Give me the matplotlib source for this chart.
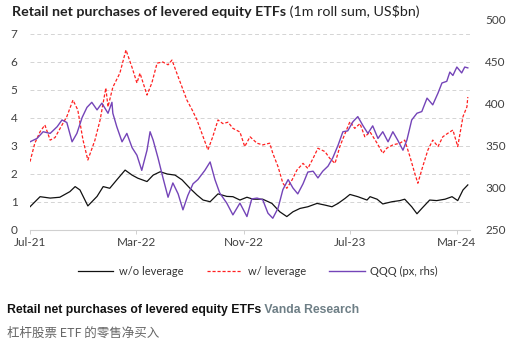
import matplotlib
matplotlib.use("Agg")
import matplotlib.pyplot as plt
import matplotlib.dates as mdates
import pandas as pd
from matplotlib.lines import Line2D

# ---------------- data ----------------
black_dates = ["2021-07-01","2021-07-24","2021-08-16","2021-09-07","2021-09-30","2021-10-12","2021-10-23",
               "2021-11-10","2021-12-01","2021-12-15","2021-12-30","2022-01-15","2022-02-03","2022-02-19",
               "2022-03-04","2022-03-25","2022-04-08","2022-04-24","2022-05-10","2022-05-28","2022-06-13",
               "2022-07-01","2022-07-17","2022-07-31","2022-08-16","2022-09-03","2022-09-23","2022-10-07",
               "2022-10-23","2022-11-08","2022-11-22","2022-12-14","2023-01-04","2023-01-22","2023-02-07",
               "2023-02-21","2023-03-09","2023-03-27","2023-04-17","2023-05-05","2023-05-21","2023-06-04",
               "2023-06-20","2023-07-01","2023-07-19","2023-08-09","2023-08-16","2023-09-01","2023-09-14",
               "2023-10-05","2023-10-23","2023-11-03","2023-11-19","2023-12-01","2023-12-12","2023-12-30",
               "2024-01-15","2024-02-03","2024-02-19","2024-03-03","2024-03-15","2024-03-26"]
black_vals = [0.83, 1.19, 1.14, 1.17, 1.37, 1.55, 1.43,
              0.86, 1.20, 1.55, 1.49, 1.79, 2.14, 1.96,
              1.85, 1.73, 1.96, 2.08, 2.00, 1.96, 1.79,
              1.49, 1.25, 1.07, 1.01, 1.29, 1.20, 1.19,
              1.07, 1.17, 1.10, 1.10, 0.95, 0.65, 0.48,
              0.65, 0.77, 0.83, 0.95, 0.89, 0.83, 0.95,
              1.13, 1.27, 1.19, 1.07, 1.19, 1.10, 0.93,
              1.01, 1.05, 1.10, 0.83, 0.58, 0.77, 1.07,
              1.05, 1.10, 1.19, 1.05, 1.43, 1.61]

red_dates = ["2021-07-01","2021-07-12","2021-07-24","2021-08-04","2021-08-16","2021-08-27","2021-09-12",
             "2021-09-23","2021-10-07","2021-10-18","2021-10-30","2021-11-10","2021-11-26","2021-12-08",
             "2021-12-21","2021-12-26","2022-01-06","2022-01-22","2022-02-05","2022-02-19","2022-03-02",
             "2022-03-09","2022-03-25","2022-04-05","2022-04-17","2022-04-30","2022-05-12","2022-05-21",
             "2022-06-01","2022-06-13","2022-06-24","2022-07-06","2022-07-17","2022-07-31","2022-08-11",
             "2022-08-22","2022-09-03","2022-09-14","2022-09-26","2022-10-07","2022-10-23","2022-11-03",
             "2022-11-15","2022-12-01","2022-12-14","2022-12-30","2023-01-06","2023-01-18","2023-01-29",
             "2023-02-07","2023-02-19","2023-03-02","2023-03-16","2023-03-27","2023-04-08","2023-04-19",
             "2023-05-05","2023-05-16","2023-05-28","2023-06-08","2023-06-20","2023-07-01","2023-07-12",
             "2023-07-24","2023-08-04","2023-08-16","2023-09-01","2023-09-14","2023-09-23","2023-10-07",
             "2023-10-23","2023-11-03","2023-11-15","2023-11-26","2023-12-03","2023-12-14","2023-12-26",
             "2024-01-06","2024-01-18","2024-01-29","2024-02-09","2024-02-21","2024-03-03","2024-03-15",
             "2024-03-24","2024-03-26"]
red_vals = [2.44, 3.10, 3.51, 3.75, 3.21, 3.30, 3.75,
            4.05, 4.64, 4.29, 3.21, 2.50, 3.20, 3.93,
            5.07, 4.40, 5.10, 5.60, 6.43, 5.80, 5.25,
            5.60, 4.82, 5.25, 5.96, 6.00, 5.90, 6.07,
            5.60, 5.10, 4.64, 4.29, 3.93, 3.33, 2.86,
            3.33, 3.93, 3.80, 3.85, 3.63, 3.50, 2.98,
            3.33, 3.10, 3.04, 3.10, 2.74, 2.26, 1.67,
            1.49, 1.79, 2.14, 2.38, 2.20, 2.56, 2.92,
            2.80, 2.56, 2.38, 2.98, 3.45, 3.87, 3.63,
            3.80, 3.33, 3.50, 3.10, 2.74, 2.92, 3.04,
            3.10, 3.21, 2.62, 2.02, 1.67, 2.26, 2.86,
            3.21, 2.98, 3.33, 3.45, 3.57, 2.98, 4.05,
            4.40, 4.75]

qqq_dates = ["2021-07-01","2021-07-17","2021-07-31","2021-08-16","2021-09-01","2021-09-12","2021-09-23",
             "2021-10-05","2021-10-16","2021-10-28","2021-11-08","2021-11-19","2021-12-01","2021-12-12",
             "2021-12-26","2022-01-04","2022-01-06","2022-01-15","2022-01-27","2022-02-07","2022-02-19",
             "2022-03-02","2022-03-13","2022-03-25","2022-04-01","2022-04-08","2022-04-19","2022-04-30",
             "2022-05-12","2022-05-23","2022-06-04","2022-06-15","2022-06-26","2022-07-08","2022-07-19",
             "2022-08-04","2022-08-16","2022-08-27","2022-09-07","2022-09-23","2022-10-07","2022-10-23",
             "2022-11-08","2022-11-19","2022-12-01","2022-12-14","2022-12-26","2023-01-06","2023-01-18",
             "2023-01-29","2023-02-10","2023-02-21","2023-03-04","2023-03-16","2023-03-27","2023-04-08",
             "2023-04-19","2023-04-30","2023-05-12","2023-05-23","2023-06-04","2023-06-15","2023-06-26",
             "2023-07-08","2023-07-19","2023-07-31","2023-08-11","2023-08-22","2023-09-03","2023-09-14",
             "2023-09-26","2023-10-07","2023-10-18","2023-10-30","2023-11-08","2023-11-19","2023-12-01",
             "2023-12-12","2023-12-24","2024-01-06","2024-01-18","2024-01-27","2024-02-07","2024-02-14",
             "2024-02-21","2024-03-01","2024-03-12","2024-03-19","2024-03-26"]
qqq_vals = [355, 359, 367, 365, 373, 381, 378,
            355, 365, 384, 396, 402, 393, 401,
            389, 402, 389, 373, 355, 365, 348,
            339, 321, 345, 367, 357, 336, 313,
            289, 306, 293, 274, 291, 305, 310,
            321, 331, 310, 294, 282, 268, 282,
            266, 287, 288, 286, 270, 264, 276,
            298, 310, 300, 293, 305, 319, 320,
            312, 320, 326, 336, 351, 367, 368,
            379, 385, 374, 365, 374, 359, 367,
            355, 367, 357, 345, 357, 381, 389,
            391, 407, 399, 413, 425, 427, 438,
            434, 444, 437, 444, 443]

x_tick_dates = ["2021-07-01", "2022-03-01", "2022-11-01", "2023-07-01", "2024-03-01"]
x_tick_labels = ["Jul-21", "Mar-22", "Nov-22", "Jul-23", "Mar-24"]
left_ticks = [0, 1, 2, 3, 4, 5, 6, 7]
right_ticks = [250, 300, 350, 400, 450, 500]
series_labels = ["w/o leverage", "w/ leverage", "QQQ (px, rhs)"]

title_bold = "Retail net purchases of levered equity ETFs"
title_norm = " (1m roll sum, US$bn)"
foot_bold = "Retail net purchases of levered equity ETFs"
foot_source = " Vanda Research"
foot_cn = "杠杆股票 ETF 的零售净买入"

# ---------------- drawing ----------------
W, H = 510, 347
fig = plt.figure(figsize=(W / 100, H / 100), dpi=100)
fig.patch.set_facecolor("white")

L, R, T, B = 30, 470, 20, 230
ax = fig.add_axes([L / W, 1 - B / H, (R - L) / W, (B - T) / H])
ax2 = ax.twinx()

c_black = "#111111"
c_red = "#ff2020"
c_purple = "#7444b8"
tick_col = "#404040"
font_chart = "Lato"

ax.plot(pd.to_datetime(black_dates), black_vals, color=c_black, lw=0.9, zorder=3)
ax.plot(pd.to_datetime(red_dates), red_vals, color=c_red, lw=0.9, ls=(0, (2.5, 1.5)), zorder=2)
ax2.plot(pd.to_datetime(qqq_dates), qqq_vals, color=c_purple, lw=1.0, zorder=3)

ax.set_ylim(0, 7.5)
ax2.set_ylim(250, 500)
ax.set_xlim(pd.Timestamp("2021-07-01"), pd.Timestamp("2024-03-31"))

ax.set_yticks(left_ticks)
ax2.set_yticks(right_ticks)
ax.set_xticks(pd.to_datetime(x_tick_dates))
ax.set_xticklabels(x_tick_labels)

for a in (ax, ax2):
    for s in ("top", "left", "right"):
        a.spines[s].set_visible(False)
ax2.spines["bottom"].set_visible(False)
ax.spines["bottom"].set_color("#d0d0d0")
ax.spines["bottom"].set_linewidth(0.8)

ax.grid(axis="y", color="#d4d4d4", ls=(0, (4, 3)), lw=0.7)
ax.set_axisbelow(True)

ax.tick_params(axis="y", length=0, pad=9, labelsize=8.5, labelcolor=tick_col)
ax2.tick_params(axis="y", length=0, pad=11, labelsize=8.5, labelcolor=tick_col)
ax.tick_params(axis="x", length=3, width=0.7, color="#d0d0d0", pad=2, labelsize=8.5, labelcolor=tick_col)
for lab in ax.get_yticklabels() + ax2.get_yticklabels() + ax.get_xticklabels():
    lab.set_fontfamily(font_chart)

# legend
handles = [Line2D([], [], color=c_black, lw=0.9),
           Line2D([], [], color=c_red, lw=0.9, ls=(0, (2.5, 1.5))),
           Line2D([], [], color=c_purple, lw=1.0)]
fig.legend(handles, series_labels, loc="center", bbox_to_anchor=(258 / W, 1 - 271 / H),
           ncol=3, frameon=False, handlelength=3.2, columnspacing=2.1, handletextpad=0.5,
           prop={"family": font_chart, "size": 8.0}, labelcolor="#333333")

# title (mixed weight)
fig.canvas.draw()
r = fig.canvas.get_renderer()
t1 = fig.text(12 / W, 1 - 12 / H, title_bold, fontsize=10.3, fontweight="bold",
              family=font_chart, color="#222222", va="center", ha="left")
bb = t1.get_window_extent(renderer=r)
fig.text(bb.x1 / W, 1 - 12 / H, title_norm, fontsize=10.3, family=font_chart,
         color="#222222", va="center", ha="left")

# footer
f1 = fig.text(7 / W, 1 - 310 / H, foot_bold, fontsize=8.8, fontweight="bold",
              family="Liberation Sans", color="#111111", va="center", ha="left")
bb2 = f1.get_window_extent(renderer=r)
fig.text(bb2.x1 / W, 1 - 310 / H, foot_source, fontsize=8.8, fontweight="bold",
         family="Liberation Sans", color="#6e7f86", va="center", ha="left")
fig.text(7 / W, 1 - 333 / H, foot_cn, fontsize=9.0,
         family=["Noto Sans CJK SC", "DejaVu Sans"], color="#666666", va="center", ha="left")

fig.savefig("out.png", dpi=100)
